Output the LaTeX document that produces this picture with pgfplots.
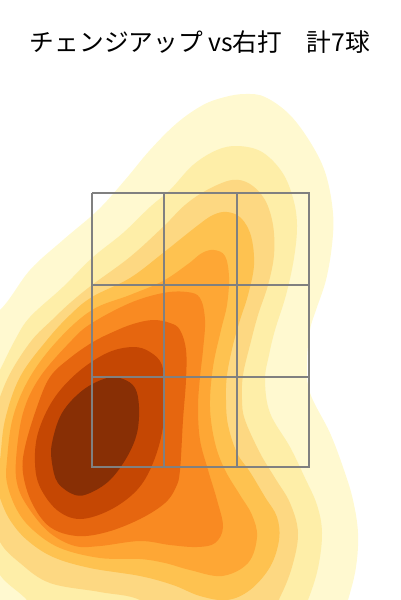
\documentclass[border=0pt]{standalone}
\usepackage{pgfplots}
\pgfplotsset{compat=1.18}
\usepackage{fontspec}
\newfontfamily\cjk{Noto Sans CJK JP}
\definecolor{l1}{HTML}{FFF9D0}
\definecolor{l2}{HTML}{FEEEA8}
\definecolor{l3}{HTML}{FDD882}
\definecolor{l4}{HTML}{FEC250}
\definecolor{l5}{HTML}{FEA735}
\definecolor{l6}{HTML}{F98A22}
\definecolor{l7}{HTML}{E6660F}
\definecolor{l8}{HTML}{C54703}
\definecolor{l9}{HTML}{882F05}
\begin{document}
\begin{tikzpicture}
\useasboundingbox (0,0) rectangle (400pt,600pt);
\begin{axis}[
    at={(0,0)}, anchor=south west,
    scale only axis, width=400pt, height=600pt,
    xmin=0, xmax=400, ymin=0, ymax=600, y dir=reverse,
    hide axis,
    every axis plot/.append style={draw=none, smooth cycle, tension=0.6},
]
% KDE bands, outermost first
\addplot[fill=l1] coordinates {(245,94) (265,97) (290,115) (312,145) (326,175) (333,213) (332,245) (326,280) (316,310) (310,330) (307,363) (310,393) (330,433) (344,470) (353,500) (358,533) (356,567) (348,600) (335,640) (200,650) (-40,640) (-40,340) (0,310) (30,270) (63,240) (98,210) (125,180) (150,150) (177,123) (203,105) (225,97)};
\addplot[fill=l2] coordinates {(238,146) (262,152) (282,172) (293,198) (297,225) (294,258) (286,295) (275,330) (269,355) (265,380) (270,413) (290,447) (305,478) (317,505) (322,533) (318,568) (308,600) (295,630) (170,640) (50,630) (27,600) (0,575) (-15,540) (-15,400) (0,370) (15,340) (30,317) (63,287) (92,258) (123,233) (150,207) (170,190) (193,165) (217,150)};
\addplot[fill=l3] coordinates {(232,180) (250,184) (265,200) (273,225) (274,255) (268,285) (258,315) (250,345) (243,375) (242,400) (245,420) (260,453) (275,478) (290,503) (298,533) (292,567) (280,597) (265,620) (170,625) (140,600) (100,592) (50,583) (20,563) (0,542) (-10,510) (-10,430) (0,397) (12,370) (32,340) (52,320) (70,303) (92,285) (130,257) (163,227) (185,205) (207,190)};
\addplot[fill=l4] coordinates {(227,212) (241,218) (251,236) (254,265) (248,295) (240,320) (233,345) (227,375) (226,400) (228,425) (237,453) (250,472) (265,497) (277,517) (279,540) (270,567) (250,590) (227,600) (200,596) (173,585) (140,576) (90,568) (53,557) (27,540) (10,520) (0,498) (-4,480) (0,460) (5,420) (20,377) (47,340) (70,315) (92,297) (130,278) (163,253) (197,226) (213,215)};
\addplot[fill=l5] coordinates {(214,250) (225,256) (229,277) (227,305) (221,330) (213,367) (210,407) (215,443) (225,470) (240,495) (252,515) (257,537) (248,563) (222,576) (190,570) (165,563) (140,559) (100,558) (60,548) (33,530) (17,510) (7,483) (7,460) (13,417) (30,377) (58,340) (92,310) (130,295) (163,281) (188,264) (202,253)};
\addplot[fill=l6] coordinates {(187,292) (200,298) (205,320) (203,350) (200,377) (198,407) (200,440) (208,470) (217,500) (223,527) (215,543) (197,547) (170,545) (140,541) (100,546) (75,546) (50,533) (30,510) (18,487) (16,460) (23,413) (40,377) (72,340) (92,323) (130,303) (163,293)};
\addplot[fill=l7] coordinates {(153,320) (170,323) (180,330) (186,350) (186,380) (183,420) (180,470) (176,487) (165,503) (140,519) (107,532) (77,536) (50,527) (32,503) (23,473) (25,447) (37,407) (50,377) (70,358) (93,342) (113,332) (133,324)};
\addplot[fill=l8] coordinates {(133,347) (150,352) (162,365) (164,390) (163,427) (153,463) (137,490) (110,510) (80,519) (57,510) (40,487) (35,463) (38,433) (53,400) (77,373) (107,353)};
\addplot[fill=l9] coordinates {(107,378) (123,379) (135,388) (139,407) (137,433) (127,457) (110,480) (90,493) (75,495) (58,483) (52,463) (52,443) (62,413) (83,390)};
% strike zone
\addplot[no marks, draw=gray, line width=1.4pt, sharp plot, line join=miter] coordinates {(92,193) (309,193) (309,467) (92,467) (92,193)};
\addplot[no marks, draw=gray, line width=1.4pt, sharp plot] coordinates {(92,285) (309,285)};
\addplot[no marks, draw=gray, line width=1.4pt, sharp plot] coordinates {(92,377) (309,377)};
\addplot[no marks, draw=gray, line width=1.4pt, sharp plot] coordinates {(164,193) (164,467)};
\addplot[no marks, draw=gray, line width=1.4pt, sharp plot] coordinates {(237,193) (237,467)};
\node[font=\cjk\fontsize{24.7}{30}\selectfont, text=black] at (axis cs:200,42) {チェンジアップ vs右打　計7球};
\end{axis}
\end{tikzpicture}
\end{document}
